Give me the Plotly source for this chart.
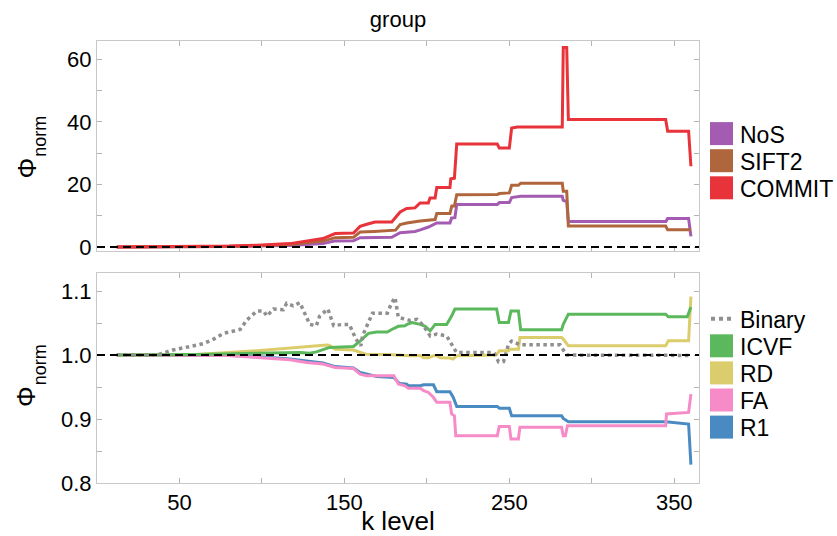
import plotly.graph_objects as go

# ---- top panel: normalised Phi per weighting ----
k_nos = [12, 50, 80, 97, 117, 137, 144, 155.5, 159.5, 178.7, 183.8, 189.8, 192.8, 196, 201, 206, 214, 215, 217, 218.1,
         242.7, 244, 250, 251.4, 256.9, 282.1, 282.7, 284.8, 285.8, 345, 346, 358.7, 360.1]
phi_nos = [0.0, 0.05, 0.15, 0.3, 0.5, 1.1, 1.9, 2.0, 3.0, 3.1, 4.6, 5.0, 5.0, 5.5, 6.4, 7.7, 7.7, 9.3, 9.4, 13.6,
           13.6, 14.2, 14.2, 15.8, 16.2, 16.2, 14.9, 14.5, 8.2, 8.2, 9.1, 9.1, 3.4]

k_sift2 = [12, 50, 80, 97, 117, 137, 144.4, 155.5, 159.5, 168, 178.7, 181, 183.8, 187.8, 195.9, 201, 205, 206, 214, 215.1,
           216.7, 218.1, 242.7, 244, 250, 251.4, 255.5, 256.9, 282.1, 282.7, 284.8, 285.8, 344.8, 346, 360.1]
phi_sift2 = [0.0, 0.08, 0.2, 0.45, 0.8, 1.9, 3.0, 3.1, 4.8, 5.0, 5.3, 5.4, 7.2, 7.7, 8.3, 8.7, 8.8, 10.7, 10.7, 13.1,
             13.1, 16.7, 16.8, 17.1, 17.3, 19.7, 19.7, 20.4, 20.4, 17.8, 17.8, 6.7, 6.7, 5.5, 5.5]

k_commit = [12, 50, 80, 97, 117, 137, 144.4, 155.5, 159.5, 163.6, 168.6, 178.7, 183.8, 187.8, 192.8, 195.9, 200.9, 201.9,
            205, 206, 214, 214.5, 216.7, 218.1, 242.7, 243.9, 250, 251.4, 255, 282.1, 282.7, 284.8, 285.8, 344.8, 346,
            358.7, 360.1]
phi_commit = [0.0, 0.1, 0.3, 0.6, 1.1, 2.7, 4.3, 4.5, 6.6, 7.3, 8.0, 8.0, 11.2, 12.3, 12.5, 14.1, 14.1, 15.7,
              15.7, 19.0, 19.0, 21.8, 22.0, 32.9, 32.9, 31.6, 31.6, 38.0, 38.3, 38.3, 63.7, 63.7, 40.7, 40.7, 37.0,
              37.0, 25.8]

# ---- bottom panel: normalised Phi per edge measure ----
k_binary = [12, 36, 41, 46, 56.5, 64.6, 70.7, 76.7, 86.8, 90.9, 97, 101, 103, 107, 113, 115, 119, 123, 129, 133, 135,
            140, 143.5, 149, 153, 157, 160, 161, 167, 176, 178.7, 180.7, 182.7, 186.7, 190, 194, 198, 202, 206, 212,
            215, 218, 240.6, 243.5, 246.5, 249.5, 251.4, 256.4, 280.7, 284.8, 360]
phi_binary = [1.0, 1.0, 1.004, 1.008, 1.0135, 1.018, 1.025, 1.034, 1.040, 1.055, 1.069, 1.069, 1.061, 1.072, 1.071,
              1.081, 1.077, 1.082, 1.048, 1.046, 1.061, 1.072, 1.046, 1.048, 1.048, 1.025, 1.0145, 1.030, 1.0655,
              1.0655, 1.082, 1.090, 1.059, 1.056, 1.054, 1.056, 1.046, 1.030, 1.033, 1.030, 1.017, 1.004, 1.004,
              0.9895, 0.990, 1.017, 1.022, 1.016, 1.016, 1.0, 0.9995]

k_icvf = [12, 50, 60, 97, 123, 129, 133, 141, 155.5, 159.5, 164.6, 169.6, 176, 178.7, 182.7, 186.7, 188, 190.9, 196,
          199, 202, 205, 212, 215, 217, 242.3, 243.9, 249.5, 251, 255.5, 256.9, 281.7, 282.7, 285.8, 344.8, 346.4,
          357.9, 360.1]
phi_icvf = [1.0, 1.0, 1.001, 1.003, 1.004, 1.003, 1.005, 1.012, 1.0135, 1.022, 1.034, 1.036, 1.036, 1.040, 1.045,
            1.046, 1.048, 1.051, 1.048, 1.045, 1.038, 1.048, 1.048, 1.061, 1.072, 1.072, 1.051, 1.051, 1.069, 1.069,
            1.0395, 1.0395, 1.048, 1.064, 1.064, 1.060, 1.060, 1.075]

k_rd = [12, 50, 60, 97, 123, 139.3, 141, 144.4, 155.5, 160, 163, 176, 190, 196, 198, 201, 204, 206, 208, 214, 216, 218,
        242, 244, 249.5, 250.5, 255.5, 256.4, 281.7, 282.7, 285.8, 344.8, 346.4, 358.7, 360.1]
phi_rd = [1.0, 1.0, 1.001, 1.0067, 1.0125, 1.0156, 1.015, 1.0093, 1.008, 1.004, 1.0015, 1.001, 0.999, 0.9995, 0.9957,
          0.996, 0.999, 0.999, 0.996, 0.9955, 0.9937, 0.999, 1.0, 1.0067, 1.0067, 1.009, 1.009, 1.0275, 1.0275, 1.025,
          1.0145, 1.0145, 1.0223, 1.0223, 1.0916]

k_fa = [12, 60, 80, 97, 117, 127, 137, 144.4, 155.5, 159.5, 163.6, 180, 182.7, 186.7, 188.8, 196, 198, 201, 203.9, 206,
        214, 215, 216.7, 217.5, 242.7, 243.9, 250, 251, 255.5, 256.4, 281.7, 282.7, 284, 285.2, 344.8, 345.3, 358.7,
        360.1]
phi_fa = [1.0, 1.0, 0.9995, 0.9963, 0.9927, 0.9885, 0.986, 0.9807, 0.979, 0.9703, 0.9677, 0.9677, 0.9547, 0.952, 0.948,
          0.948, 0.9445, 0.9416, 0.934, 0.9261, 0.9261, 0.908, 0.905, 0.874, 0.874, 0.8885, 0.8885, 0.869, 0.869,
          0.887, 0.887, 0.874, 0.874, 0.8895, 0.8895, 0.908, 0.9104, 0.939]

k_r1 = [12, 60, 80, 97, 117, 137, 144.4, 155.5, 159.5, 169.6, 180, 182.7, 183.8, 187.8, 188.8, 196, 198, 204, 206, 214,
        216, 218.1, 242.7, 244, 250, 251.4, 281.7, 282.7, 285.8, 344.8, 358.7, 360.1]
phi_r1 = [1.0, 1.0, 0.9995, 0.998, 0.994, 0.9875, 0.982, 0.980, 0.973, 0.9667, 0.965, 0.957, 0.9557, 0.9547, 0.952,
          0.952, 0.9536, 0.9536, 0.9427, 0.9427, 0.9339, 0.9198, 0.9198, 0.9167, 0.9167, 0.905, 0.905, 0.901, 0.8958,
          0.8958, 0.8922, 0.8286]

# axis ticks: labelled majors plus unlabelled minors
x_major = [50, 150, 250, 350]
x_minor = [100, 200, 300]
top_major = [0, 20, 40, 60]
top_minor = [10, 30, 50]
bot_major = [0.8, 0.9, 1.0, 1.1]
bot_minor = [0.85, 0.95, 1.05]
bot_labels = ["0.8", "0.9", "1.0", "1.1"]

top_series = [("NoS", k_nos, phi_nos, "#a35cb2"),
              ("SIFT2", k_sift2, phi_sift2, "#b0663c"),
              ("COMMIT", k_commit, phi_commit, "#e8333a")]
bot_series = [("R1", k_r1, phi_r1, "#4a8ac2"),
              ("FA", k_fa, phi_fa, "#f78bc8"),
              ("RD", k_rd, phi_rd, "#dccd6c"),
              ("ICVF", k_icvf, phi_icvf, "#5cb85c")]
binary_color = "#8f8f8f"

W, H = 837, 536
L, R, T, B = 97, 138, 41, 53
FONT = "Liberation Sans, Arial, sans-serif"
TICK_GREY = "#b4b4b4"


def px_x(px):
    return (px - L) / (W - L - R)


def px_y(py):
    return 1 - (py - T) / (H - T - B)


fig = go.Figure()

for name, k, v, c in top_series:
    fig.add_trace(go.Scatter(x=k, y=v, mode="lines", name=name, line=dict(color=c, width=3),
                             xaxis="x2", yaxis="y2", showlegend=False))
for name, k, v, c in bot_series:
    fig.add_trace(go.Scatter(x=k, y=v, mode="lines", name=name, line=dict(color=c, width=3),
                             xaxis="x", yaxis="y", showlegend=False))
fig.add_trace(go.Scatter(x=k_binary, y=phi_binary, mode="lines", name="Binary",
                         line=dict(color=binary_color, width=3.5, dash="dot"),
                         xaxis="x", yaxis="y", showlegend=False))

# reference lines at Phi_norm = 0 and 1
fig.add_shape(type="line", xref="x2 domain", yref="y2", x0=0, x1=1, y0=0, y1=0,
              line=dict(color="black", width=2, dash="8px,5px"), layer="above")
fig.add_shape(type="line", xref="x domain", yref="y", x0=0, x1=1, y0=1, y1=1,
              line=dict(color="black", width=2, dash="8px,5px"), layer="above")

# keys: swatch squares / dotted sample with labels
legend_top = [(n, c) for n, _, _, c in top_series]
legend_bot = [(n, c) for n, _, _, c in reversed(bot_series)]
sw_x0, sw_x1, txt_x, step = 710, 733, 738, 27.1


def add_key(name, color, yc, dotted=False):
    if dotted:
        fig.add_shape(type="line", xref="paper", yref="paper", x0=px_x(sw_x0 + 1), x1=px_x(sw_x1),
                      y0=px_y(yc), y1=px_y(yc), line=dict(color=color, width=4, dash="dot"))
    else:
        fig.add_shape(type="rect", xref="paper", yref="paper", x0=px_x(sw_x0), x1=px_x(sw_x1),
                      y0=px_y(yc - 11.5), y1=px_y(yc + 11.5), line=dict(width=0), fillcolor=color)
    fig.add_annotation(text=name, xref="paper", yref="paper", x=px_x(txt_x), y=px_y(yc + 1),
                       xanchor="left", yanchor="middle", showarrow=False,
                       font=dict(size=23, color="black", family=FONT))


for i, (n, c) in enumerate(legend_top):
    add_key(n, c, 133.6 + i * step)
add_key("Binary", binary_color, 318.8, dotted=True)
for i, (n, c) in enumerate(legend_bot):
    add_key(n, c, 345.8 + i * step)


# vertical axis titles: "Φ" with a lowered "norm" subscript, both rotated
def add_phi_title(center_y):
    fig.add_annotation(text="Φ", xref="paper", yref="paper", x=px_x(26), y=px_y(center_y + 22),
                       xanchor="center", yanchor="middle", textangle=-90, showarrow=False,
                       font=dict(size=26, color="black", family=FONT))
    fig.add_annotation(text="norm", xref="paper", yref="paper", x=px_x(39.7), y=px_y(center_y - 10.5),
                       xanchor="center", yanchor="middle", textangle=-90, showarrow=False,
                       font=dict(size=18, color="black", family=FONT))


add_phi_title(146.5)
add_phi_title(375.0)

axis_common = dict(showgrid=False, zeroline=False, showline=True, linecolor="#c8c8c8", linewidth=1,
                   mirror="ticks", ticks="inside", ticklen=5, tickcolor=TICK_GREY, tickwidth=1,
                   tickfont=dict(size=22, color="black", family=FONT))


def minor(vals):
    return dict(tickvals=vals, ticks="inside", ticklen=5, tickcolor=TICK_GREY, tickwidth=1, showgrid=False)


fig.update_layout(
    width=W, height=H,
    margin=dict(l=L, r=R, t=T, b=B, autoexpand=False),
    paper_bgcolor="white", plot_bgcolor="white",
    font=dict(family=FONT, color="black"),
    showlegend=False,
    title=dict(text="group", font=dict(size=22), x=0.5, xref="paper", y=1 - 19 / H, yref="container",
               yanchor="middle"),
    xaxis=dict(axis_common, domain=[0, 1], range=[0, 365], anchor="y", tickvals=x_major,
               minor=minor(x_minor), title=dict(text="k level", font=dict(size=26), standoff=2)),
    # top panel shares k; only tick marks, no labels
    xaxis2=dict(axis_common, domain=[0, 1], range=[0, 365], anchor="y2", matches="x", tickvals=[],
                showticklabels=False, minor=minor(x_major + x_minor)),
    yaxis=dict(axis_common, domain=[0, 0.476], range=[0.8, 1.129], anchor="x", tickvals=bot_major,
               ticktext=bot_labels, minor=minor(bot_minor)),
    yaxis2=dict(axis_common, domain=[0.5253, 1], range=[-1.2, 65.8], anchor="x2", tickvals=top_major,
                minor=minor(top_minor)),
)

fig.write_html("out.html")
